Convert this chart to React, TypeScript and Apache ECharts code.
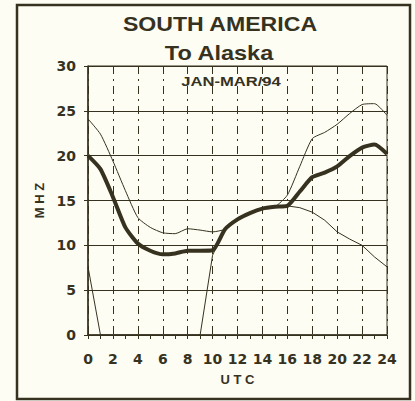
import React, { useEffect, useRef } from "react";
import * as echarts from "echarts";

const hours = [0, 1, 2, 3, 4, 5, 6, 7, 8, 9, 10, 11, 12, 13, 14, 15, 16, 17, 18, 19, 20, 21, 22, 23, 24];
const medianMhz = [20, 18.5, 15.4, 12.0, 10.2, 9.4, 9.0, 9.1, 9.4, 9.4, 9.45, 11.8, 12.9, 13.6, 14.1, 14.3, 14.4, 16.0, 17.6, 18.1, 18.8, 19.95, 20.9, 21.25, 20.2];
const upperMhz = [24.1, 22.4, 19.4, 16.1, 13.1, 12.0, 11.4, 11.3, 11.85, 11.7, 11.5, 11.8, 12.9, 13.6, 14.1, 14.3, 15.6, 18.8, 21.9, 22.6, 23.5, 24.7, 25.7, 25.8, 24.5];
const lowerMhz = [7.6, 0, 0, 0, 0, 0, 0, 0, 0, 0, 8.9, 11.8, 12.9, 13.6, 14.1, 14.3, 14.4, 14.2, 13.7, 12.8, 11.5, 10.7, 10.0, 8.7, 7.6];
const titleLine1 = "SOUTH AMERICA";
const titleLine2 = "To Alaska";
const periodLabel = "JAN-MAR/94";
const xAxisName = "U T C";
const yAxisName = "M H Z";

const INK = "#36321f";
const BG = "#fdfdf3";

export default function App() {
  const ref = useRef<HTMLDivElement>(null);
  useEffect(() => {
    if (!ref.current) return;
    const chart = echarts.init(ref.current, null, { renderer: "svg" });
    const pair = (arr: number[]) => hours.map((h, i) => [h, arr[i]]);
    const labelFont = {
      fontFamily: "DejaVu Sans",
      fontWeight: "bold" as const,
      fontSize: 14,
      color: INK,
    };
    chart.setOption({
      animation: false,
      backgroundColor: BG,
      grid: {
        left: 88,
        right: 28,
        top: 66,
        bottom: 66,
        show: true,
        borderColor: INK,
        borderWidth: 1,
        backgroundColor: "transparent",
      },
      xAxis: {
        type: "value",
        min: 0,
        max: 24,
        interval: 2,
        name: xAxisName,
        nameLocation: "middle",
        nameGap: 38,
        nameTextStyle: { ...labelFont, fontSize: 13, fontFamily: "Liberation Sans" },
        axisLine: { show: true, onZero: false, lineStyle: { color: INK, width: 1.5 } },
        axisTick: { show: true, length: 4, lineStyle: { color: INK } },
        minorTick: { show: true, splitNumber: 2, length: 4, lineStyle: { color: INK } },
        axisLabel: { ...labelFont, margin: 17 },
        splitLine: { show: true, lineStyle: { color: INK, width: 1, type: [8, 5, 2, 5] } },
      },
      yAxis: {
        type: "value",
        min: 0,
        max: 30,
        interval: 5,
        name: yAxisName,
        nameLocation: "middle",
        nameGap: 40,
        nameTextStyle: { ...labelFont, fontSize: 13, fontFamily: "Liberation Sans" },
        axisLine: { show: true, lineStyle: { color: INK, width: 1.5 } },
        axisTick: { show: true, length: 4, lineStyle: { color: INK } },
        axisLabel: { ...labelFont, margin: 12 },
        splitLine: { show: true, lineStyle: { color: INK, width: 1.2 } },
      },
      series: [
        {
          type: "line",
          data: pair(upperMhz),
          showSymbol: false,
          smooth: 0.2,
          lineStyle: { color: INK, width: 1 },
          z: 3,
        },
        {
          type: "line",
          data: pair(lowerMhz),
          showSymbol: false,
          lineStyle: { color: INK, width: 1 },
          z: 3,
        },
        {
          type: "line",
          data: pair(medianMhz),
          showSymbol: false,
          smooth: 0.2,
          lineStyle: { color: INK, width: 4 },
          z: 4,
        },
      ],
      graphic: [
        {
          type: "rect",
          shape: { x: 17, y: 5, width: 393, height: 394 },
          style: { fill: "none", stroke: INK, lineWidth: 2.5 },
          silent: true,
        },
        {
          type: "text",
          x: 220,
          y: 24,
          scaleX: 1.1,
          style: {
            text: titleLine1,
            fill: INK,
            font: "bold 21px 'Liberation Sans', Arial, sans-serif",
            textAlign: "center",
            textVerticalAlign: "middle",
          },
        },
        {
          type: "text",
          x: 219,
          y: 53,
          scaleX: 1.12,
          style: {
            text: titleLine2,
            fill: INK,
            font: "bold 21px 'Liberation Sans', Arial, sans-serif",
            textAlign: "center",
            textVerticalAlign: "middle",
          },
        },
        {
          type: "text",
          x: 231,
          y: 81,
          scaleX: 1.23,
          style: {
            text: periodLabel,
            fill: INK,
            font: "bold 13.5px 'Liberation Sans', Arial, sans-serif",
            textAlign: "center",
            textVerticalAlign: "middle",
          },
        },
      ],
    });
    return () => chart.dispose();
  }, []);
  return (
    <div
      ref={ref}
      style={{ position: "fixed", left: 0, top: 0, width: 415, height: 401, background: BG }}
    />
  );
}
